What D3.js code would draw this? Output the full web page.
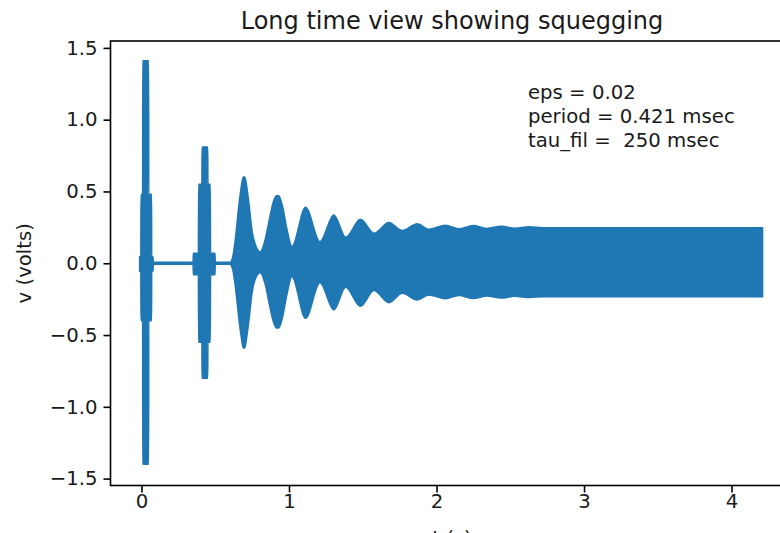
<!DOCTYPE html>
<html>
<head>
<meta charset="utf-8">
<script src="https://cdn.jsdelivr.net/npm/d3@7"></script>
<style>
  html, body { margin: 0; padding: 0; background: #fff; overflow: hidden; }
  svg { display: block; font-family: "DejaVu Sans", sans-serif; }
  text { white-space: pre; }
</style>
</head>
<body>
<svg id="chart" width="780" height="533"></svg>
<script>
// Envelope of the oscillator output v(t): time (s), upper and lower bound (volts)
const envTime = [
  -0.012, -0.004, -0.003, 0.008, 0.009, 0.048, 0.049, 0.068, 0.069, 0.078, 0.080,
  0.350, 0.352, 0.386, 0.388, 0.410, 0.411, 0.449, 0.450, 0.466, 0.468, 0.498, 0.500,
  0.600, 0.620, 0.640, 0.660, 0.675, 0.690, 0.700, 0.715, 0.730, 0.750, 0.775, 0.805,
  0.840, 0.870, 0.895, 0.915, 0.930, 0.955, 0.985, 1.020,
  1.112, 1.210, 1.304, 1.384, 1.485, 1.576, 1.677, 1.768, 1.869, 1.949,
  2.060, 2.150, 2.250, 2.340, 2.440, 2.530, 2.630, 2.720, 4.210
];
const envUpper = [
  0.045, 0.045, 0.48, 0.48, 1.41, 1.41, 0.48, 0.48, 0.045, 0.045, 0.006,
  0.006, 0.07, 0.07, 0.55, 0.55, 0.81, 0.81, 0.55, 0.55, 0.07, 0.07, 0.006,
  0.006, 0.05, 0.20, 0.40, 0.52, 0.60, 0.60, 0.52, 0.40, 0.22, 0.12, 0.08,
  0.17, 0.32, 0.43, 0.47, 0.47, 0.40, 0.24, 0.116,
  0.39, 0.15, 0.336, 0.181, 0.306, 0.209, 0.283, 0.227, 0.274, 0.237,
  0.265, 0.240, 0.262, 0.242, 0.258, 0.244, 0.254, 0.247, 0.247
];
const envLower = [
  -0.055, -0.055, -0.40, -0.40, -1.40, -1.40, -0.40, -0.40, -0.055, -0.055, -0.006,
  -0.006, -0.08, -0.08, -0.55, -0.55, -0.80, -0.80, -0.55, -0.55, -0.08, -0.08, -0.006,
  -0.006, -0.05, -0.19, -0.38, -0.50, -0.59, -0.59, -0.50, -0.38, -0.20, -0.10, -0.065,
  -0.15, -0.30, -0.41, -0.45, -0.45, -0.38, -0.22, -0.093,
  -0.383, -0.135, -0.325, -0.167, -0.30, -0.19, -0.274, -0.209, -0.256, -0.22,
  -0.247, -0.224, -0.245, -0.228, -0.242, -0.23, -0.238, -0.233, -0.233
];

const xTicks = [0, 1, 2, 3, 4];
const yTicks = [-1.5, -1.0, -0.5, 0.0, 0.5, 1.0, 1.5];
const xDomain = [-0.21, 4.42];
const yDomain = [-1.548, 1.548];

const titleText = "Long time view showing squegging";
const xLabelText = "t (s)";
const yLabelText = "v (volts)";
const noteLines = ["eps = 0.02", "period = 0.421 msec", "tau_fil =  250 msec"];

const svg = d3.select("#chart");
const frame = { left: 110.5, top: 41, right: 793.5, bottom: 485.5 };
const fontSize = 19.7;
const color = "#1f77b4";

const x = d3.scaleLinear().domain(xDomain).range([frame.left, frame.right]);
const y = d3.scaleLinear().domain(yDomain).range([frame.bottom, frame.top]);

const env = envTime.map((t, i) => ({ t, hi: envUpper[i], lo: envLower[i] }));

// filled oscillation band
const area = d3.area()
  .x(d => x(d.t))
  .y0(d => y(d.lo))
  .y1(d => y(d.hi))
  .curve(d3.curveMonotoneX);

svg.append("path")
  .datum(env)
  .attr("d", area)
  .attr("fill", color)
  .attr("stroke", color)
  .attr("stroke-width", 1.6)
  .attr("stroke-linejoin", "round");

// axes
const xAxis = d3.axisBottom(x).tickValues(xTicks).tickFormat(d3.format("d"))
  .tickSize(7).tickPadding(2);
const yAxis = d3.axisLeft(y).tickValues(yTicks).tickFormat(d3.format(".1f"))
  .tickSize(7).tickPadding(6);

const gx = svg.append("g").attr("transform", `translate(0,${frame.bottom})`).call(xAxis);
const gy = svg.append("g").attr("transform", `translate(${frame.left},0)`).call(yAxis);
[gx, gy].forEach(g => {
  g.select(".domain").remove();
  g.selectAll(".tick line").attr("stroke", "#000").attr("stroke-width", 1.6);
  g.selectAll(".tick text").attr("fill", "#1a1a1a")
    .style("font-size", fontSize + "px").style("font-family", "DejaVu Sans");
});

// spines (right spine lies beyond the visible area)
svg.append("rect")
  .attr("x", frame.left).attr("y", frame.top)
  .attr("width", frame.right - frame.left).attr("height", frame.bottom - frame.top)
  .attr("fill", "none").attr("stroke", "#000").attr("stroke-width", 1.6);

// title and axis labels
svg.append("text")
  .attr("x", (frame.left + frame.right) / 2).attr("y", 29)
  .attr("text-anchor", "middle").attr("fill", "#1a1a1a")
  .style("font-size", "24px").text(titleText);

svg.append("text")
  .attr("x", (frame.left + frame.right) / 2).attr("y", 545)
  .attr("text-anchor", "middle").attr("fill", "#1a1a1a")
  .style("font-size", fontSize + "px").text(xLabelText);

svg.append("text")
  .attr("transform", `translate(31,${(frame.top + frame.bottom) / 2}) rotate(-90)`)
  .attr("text-anchor", "middle").attr("fill", "#1a1a1a")
  .style("font-size", fontSize + "px").text(yLabelText);

// parameter annotation
svg.append("g").selectAll("text")
  .data(noteLines)
  .join("text")
  .attr("x", 528)
  .attr("y", (d, i) => 99 + i * 24)
  .attr("fill", "#1a1a1a")
  .style("font-size", fontSize + "px")
  .text(d => d);
</script>
</body>
</html>
